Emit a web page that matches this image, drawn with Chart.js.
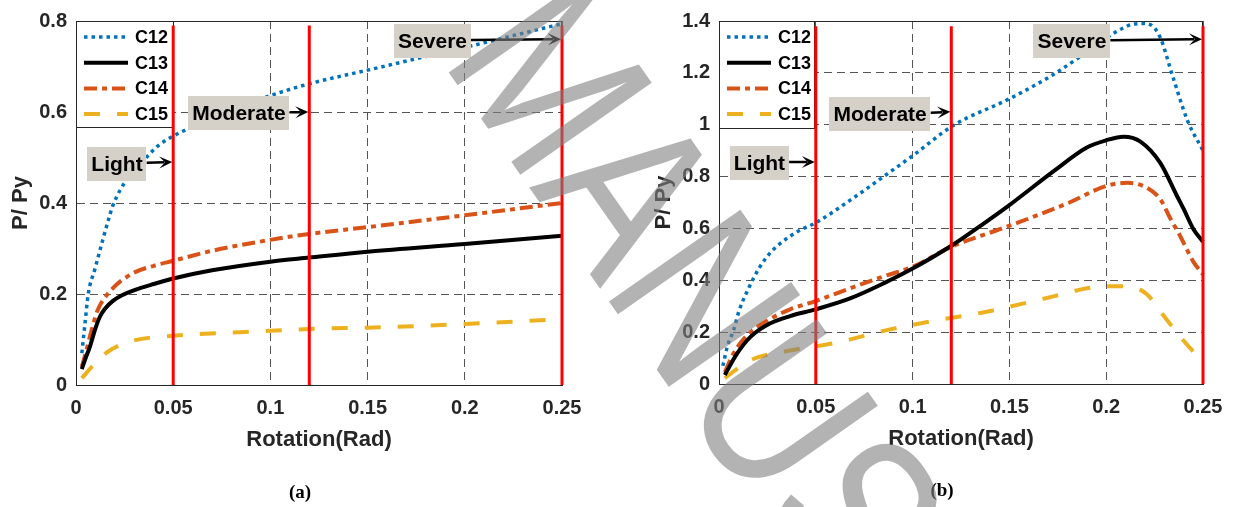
<!DOCTYPE html>
<html><head><meta charset="utf-8">
<script src="https://cdn.jsdelivr.net/npm/chart.js@4.4.1/dist/chart.umd.min.js"></script>
<style>
html,body{margin:0;padding:0;background:#fff;width:1235px;height:507px;overflow:hidden;}
body{position:relative;}
.panel{position:absolute;top:0;height:507px;}
#pa{left:0;width:600px;} #pb{left:600px;width:635px;}
.cap{position:absolute;font:bold 19px "Liberation Serif",serif;color:#000;transform:translate(-50%,-50%);white-space:nowrap;}
#wm{position:absolute;left:440px;top:-137px;font:233px "Liberation Sans",Arial,sans-serif;line-height:233px;color:rgba(128,128,128,0.6);white-space:nowrap;transform-origin:0 197px;transform:rotate(55deg) scaleX(0.8);pointer-events:none;}
</style></head>
<body>
<div class="panel" id="pa"><canvas id="ca" width="600" height="507"></canvas></div>
<div class="panel" id="pb"><canvas id="cb" width="635" height="507"></canvas></div>
<div class="cap" style="left:300px;top:492px">(a)</div>
<div class="cap" style="left:942px;top:490px">(b)</div>
<div id="wm">MANUSCRIPT</div>
<script>
// ---------- data ----------
const seriesNames = ['C12', 'C13', 'C14', 'C15'];
const xTicks = [0, 0.05, 0.1, 0.15, 0.2, 0.25];
const xTickLabels = ['0', '0.05', '0.1', '0.15', '0.2', '0.25'];
const aYTicks = [0, 0.2, 0.4, 0.6, 0.8];
const aYTickLabels = ['0', '0.2', '0.4', '0.6', '0.8'];
const bYTicks = [0, 0.2, 0.4, 0.6, 0.8, 1, 1.2, 1.4];
const bYTickLabels = ['0', '0.2', '0.4', '0.6', '0.8', '1', '1.2', '1.4'];
const damageStates = ['Light', 'Moderate', 'Severe'];
const damageRotation = [0.05, 0.12, 0.25];
const aLimitTop = 0.79;
const bLimitTop = 1.38;

// panel (a)
const aC12x = [0.003, 0.0045, 0.0063, 0.0098, 0.0139, 0.0175, 0.019, 0.026, 0.034, 0.042, 0.05, 0.064, 0.081, 0.1, 0.12, 0.15, 0.18, 0.204, 0.225, 0.25];
const aC12y = [0.07, 0.13, 0.2, 0.256, 0.321, 0.375, 0.395, 0.451, 0.49, 0.525, 0.547, 0.575, 0.605, 0.636, 0.662, 0.692, 0.722, 0.746, 0.768, 0.794];
const aC13x = [0.003, 0.005, 0.007, 0.0098, 0.0123, 0.015, 0.019, 0.024, 0.029, 0.04, 0.05, 0.07, 0.1, 0.12, 0.15, 0.2, 0.25];
const aC13y = [0.035, 0.06, 0.082, 0.122, 0.15, 0.168, 0.185, 0.198, 0.207, 0.222, 0.234, 0.252, 0.271, 0.28, 0.293, 0.31, 0.328];
const aC14x = [0.003, 0.0057, 0.008, 0.011, 0.0175, 0.029, 0.04, 0.05, 0.07, 0.1, 0.12, 0.15, 0.2, 0.25];
const aC14y = [0.04, 0.082, 0.12, 0.163, 0.206, 0.245, 0.262, 0.273, 0.295, 0.319, 0.332, 0.347, 0.373, 0.4];
const aC15x = [0.003, 0.0088, 0.016, 0.029, 0.05, 0.1, 0.125, 0.15, 0.2, 0.25];
const aC15y = [0.015, 0.043, 0.072, 0.097, 0.108, 0.119, 0.124, 0.126, 0.134, 0.145];

// panel (b)
const bC12x = [0.002, 0.0045, 0.0074, 0.0105, 0.0145, 0.021, 0.027, 0.033, 0.041, 0.05, 0.068, 0.085, 0.1, 0.121, 0.15, 0.173, 0.186, 0.2, 0.208, 0.214, 0.219, 0.223, 0.228, 0.234, 0.242, 0.25];
const bC12y = [0.07, 0.15, 0.205, 0.285, 0.357, 0.45, 0.51, 0.55, 0.59, 0.622, 0.71, 0.8, 0.88, 0.997, 1.1, 1.195, 1.26, 1.335, 1.37, 1.388, 1.39, 1.385, 1.335, 1.195, 1.016, 0.9];
const bC13x = [0.003, 0.0093, 0.016, 0.026, 0.0367, 0.05, 0.0677, 0.085, 0.1, 0.12, 0.136, 0.15, 0.1727, 0.19, 0.2, 0.209, 0.2175, 0.228, 0.2365, 0.24, 0.245, 0.25];
const bC13y = [0.035, 0.117, 0.18, 0.232, 0.262, 0.288, 0.33, 0.388, 0.445, 0.533, 0.615, 0.69, 0.82, 0.912, 0.94, 0.954, 0.936, 0.852, 0.726, 0.675, 0.598, 0.548];
const bC14x = [0.003, 0.0074, 0.0143, 0.0246, 0.0367, 0.05, 0.0677, 0.085, 0.1, 0.12, 0.1435, 0.155, 0.181, 0.2, 0.211, 0.221, 0.228, 0.233, 0.238, 0.245, 0.25];
const bC14y = [0.046, 0.117, 0.186, 0.243, 0.288, 0.32, 0.369, 0.415, 0.452, 0.529, 0.593, 0.624, 0.7, 0.764, 0.776, 0.757, 0.712, 0.64, 0.574, 0.472, 0.422];
const bC15x = [0.003, 0.016, 0.0367, 0.061, 0.085, 0.1105, 0.135, 0.147, 0.1727, 0.19, 0.2, 0.211, 0.221, 0.229, 0.24, 0.247, 0.25];
const bC15y = [0.023, 0.091, 0.129, 0.16, 0.205, 0.243, 0.274, 0.293, 0.338, 0.369, 0.377, 0.377, 0.346, 0.27, 0.167, 0.11, 0.09];

// annotation anchors (data units)
const aNotes = [
  {x: 0.0211, y: 0.486, ax: 0.05, ay: 0.49},
  {x: 0.0838, y: 0.597, ax: 0.12, ay: 0.6},
  {x: 0.1834, y: 0.756, ax: 0.25, ay: 0.76}
];
const bNotes = [
  {x: 0.0209, y: 0.852, ax: 0.05, ay: 0.856},
  {x: 0.0832, y: 1.042, ax: 0.12, ay: 1.05},
  {x: 0.1823, y: 1.322, ax: 0.25, ay: 1.33}
];

// ---------- styles ----------
const FONT = '"Liberation Sans", Arial, sans-serif';
const styles = [
  {color: '#0072BD', width: 3.5, dash: [3.5, 4]},
  {color: '#000000', width: 4, dash: []},
  {color: '#D95319', width: 4, dash: [13, 5, 5, 5]},
  {color: '#EDB120', width: 4, dash: [16, 17]}
];
const toPts = (xs, ys) => xs.map((x, i) => ({x: x, y: ys[i]}));

function buildDatasets(xsList, ysList, limitTop) {
  const ds = seriesNames.map((name, i) => ({
    label: name,
    data: toPts(xsList[i], ysList[i]),
    borderColor: styles[i].color,
    backgroundColor: styles[i].color,
    borderWidth: styles[i].width,
    borderDash: styles[i].dash,
    showLine: true, pointRadius: 0, fill: false, clip: false,
    cubicInterpolationMode: 'monotone',
    inLegend: true, order: 2
  }));
  damageRotation.forEach((r, k) => {
    ds.push({
      label: damageStates[k] + ' limit',
      data: [{x: r, y: 0}, {x: r, y: limitTop}],
      borderColor: '#FF0000', borderWidth: 3, showLine: true, pointRadius: 0, clip: false,
      inLegend: false, order: 1
    });
  });
  return ds;
}

function arrow(ctx, x1, y1, x2, y2) {
  const ang = Math.atan2(y2 - y1, x2 - x1), L = 13, W = 6;
  ctx.save();
  ctx.strokeStyle = '#000'; ctx.fillStyle = '#000'; ctx.lineWidth = 2.5; ctx.setLineDash([]);
  ctx.beginPath(); ctx.moveTo(x1, y1);
  ctx.lineTo(x2 - L * 0.6 * Math.cos(ang), y2 - L * 0.6 * Math.sin(ang)); ctx.stroke();
  ctx.translate(x2, y2); ctx.rotate(ang);
  ctx.beginPath(); ctx.moveTo(0, 0); ctx.lineTo(-L, -W); ctx.lineTo(-L * 0.55, 0); ctx.lineTo(-L, W); ctx.closePath(); ctx.fill();
  ctx.restore();
}

const decor = {
  id: 'decor',
  beforeDatasetsDraw(chart, args, o) {
    const ctx = chart.ctx, ca = chart.chartArea;
    ctx.save();
    ctx.strokeStyle = '#262626'; ctx.lineWidth = 1; ctx.setLineDash([]);
    const t = Math.round(ca.top) + 0.5, r = Math.round(ca.right) - 0.5;
    ctx.beginPath(); ctx.moveTo(ca.left, t); ctx.lineTo(r, t); ctx.lineTo(r, ca.bottom); ctx.stroke();
    const L = Math.round(ca.left), T = Math.round(ca.top);
    ctx.fillStyle = '#fff'; ctx.fillRect(L, T, o.legendW, o.legendH);
    ctx.strokeRect(L + 0.5, T + 0.5, o.legendW - 1, o.legendH - 1);
    chart.data.datasets.filter(d => d.inLegend).forEach((d, i) => {
      const y = T + 16 + i * 25.7;
      ctx.strokeStyle = d.borderColor; ctx.lineWidth = d.borderWidth; ctx.setLineDash(d.borderDash || []);
      ctx.beginPath(); ctx.moveTo(L + 8, y); ctx.lineTo(L + 52, y); ctx.stroke();
      ctx.setLineDash([]);
      ctx.fillStyle = '#000'; ctx.font = 'bold 18px ' + FONT; ctx.textBaseline = 'middle'; ctx.textAlign = 'left';
      ctx.fillText(d.label, L + 59, y + 1);
    });
    ctx.restore();
  },
  afterDatasetsDraw(chart, args, o) {
    const ctx = chart.ctx, xs = chart.scales.x, ys = chart.scales.y;
    ctx.save();
    ctx.font = 'bold 21px ' + FONT; ctx.textBaseline = 'middle'; ctx.textAlign = 'center';
    o.notes.forEach((n, k) => {
      const text = damageStates[k];
      const w = ctx.measureText(text).width + 8, h = 34;
      const cx = xs.getPixelForValue(n.x), cy = ys.getPixelForValue(n.y);
      ctx.fillStyle = '#D5D1C9';
      ctx.fillRect(Math.round(cx - w / 2), Math.round(cy - h / 2), Math.round(w), h);
      ctx.fillStyle = '#000';
      ctx.fillText(text, cx, cy + 1);
      arrow(ctx, cx + w / 2, cy - 1, xs.getPixelForValue(n.ax) - 1, ys.getPixelForValue(n.ay));
    });
    ctx.restore();
  }
};

function makeChart(id, xsList, ysList, yMax, yTicks, yTickLabels, limitTop, notes, pad, legendW, legendH) {
  const tickFont = {family: FONT, size: 20, weight: 'bold'};
  const titleFont = {family: FONT, size: 22, weight: 'bold'};
  const gridCommon = {color: '#555555', lineWidth: 1, drawTicks: false};
  const borderCommon = {display: true, color: '#262626', width: 1, dash: [8, 5]};
  return new Chart(document.getElementById(id), {
    type: 'scatter',
    data: {datasets: buildDatasets(xsList, ysList, limitTop)},
    options: {
      responsive: false, animation: false, events: [],
      layout: {padding: pad},
      plugins: {legend: {display: false}, tooltip: {enabled: false},
        decor: {notes: notes, legendW: legendW, legendH: legendH}},
      scales: {
        x: {
          type: 'linear', min: 0, max: 0.25,
          afterBuildTicks: s => { s.ticks = xTicks.map(v => ({value: v})); },
          afterFit: s => { s.height = 70; },
          ticks: {callback: (v, i) => xTickLabels[i], font: tickFont, color: '#262626', padding: 11, maxRotation: 0, autoSkip: false},
          grid: gridCommon, border: borderCommon,
          title: {display: true, text: 'Rotation(Rad)', font: titleFont, color: '#262626', padding: {top: 0, bottom: 2}}
        },
        y: {
          type: 'linear', min: 0, max: yMax,
          afterBuildTicks: s => { s.ticks = yTicks.map(v => ({value: v})); },
          afterFit: s => { s.width = 76; },
          ticks: {callback: (v, i) => yTickLabels[i], font: tickFont, color: '#262626', padding: 9, autoSkip: false},
          grid: gridCommon, border: borderCommon,
          title: {display: true, text: 'P/ Py', font: titleFont, color: '#262626', padding: {top: 8, bottom: 0}}
        }
      }
    },
    plugins: [decor]
  });
}

makeChart('ca', [aC12x, aC13x, aC14x, aC15x], [aC12y, aC13y, aC14y, aC15y], 0.8, aYTicks, aYTickLabels, aLimitTop, aNotes,
  {left: 0, right: 38, top: 16, bottom: 52}, 98, 107);
makeChart('cb', [bC12x, bC13x, bC14x, bC15x], [bC12y, bC13y, bC14y, bC15y], 1.4, bYTicks, bYTickLabels, bLimitTop, bNotes,
  {left: 43, right: 32, top: 16, bottom: 53}, 96, 108);
</script>
</body></html>
